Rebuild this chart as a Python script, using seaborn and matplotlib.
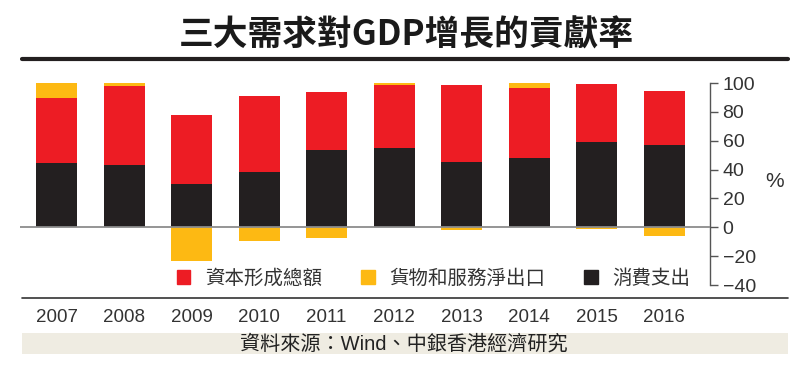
import numpy as np
import pandas as pd
import matplotlib
matplotlib.use('Agg')
import matplotlib.pyplot as plt
import seaborn as sns
from matplotlib.patches import Patch, Rectangle
from matplotlib.lines import Line2D

# values (%)
years = ['2007', '2008', '2009', '2010', '2011', '2012', '2013', '2014', '2015', '2016']
consumption = [44.6, 43.4, 30.3, 38.2, 53.6, 55.0, 45.3, 48.0, 58.9, 57.2]
capital = [44.8, 54.5, 47.6, 52.8, 40.4, 43.6, 53.1, 48.3, 40.2, 37.5]
net_exports = [10.9, 2.6, -23.7, -9.7, -7.4, 1.9, -2.1, 4.2, -1.4, -6.0]

series_names = ['資本形成總額', '貨物和服務淨出口', '消費支出']
title = '三大需求對GDP增長的貢獻率'
source = '資料來源：Wind、中銀香港經濟研究'

RED = '#ed1c24'
YELLOW = '#fdb913'
BLACK = '#231f20'
TEXT = '#333333'

sns.set_style('white')
plt.rcParams['font.family'] = ['Liberation Sans', 'Noto Sans CJK TC']

df = pd.DataFrame({'year': years, 'consumption': consumption,
                   'capital': capital, 'net': net_exports})
df['top'] = df['consumption'] + df['capital']
# net exports sit on top of the stack when positive, below zero when negative
df['yellow'] = np.where(df['net'] > 0, df['top'] + df['net'], df['net'])

fig = plt.figure(figsize=(8, 3.65), dpi=100)
W, H = 800, 365
ax = fig.add_axes([20 / W, (H - 285) / H, (710 - 20) / W, (285 - 83) / H])

bw = 0.61
sns.barplot(data=df, x='year', y='yellow', color=YELLOW, width=bw,
            saturation=1, linewidth=0, ax=ax)
sns.barplot(data=df, x='year', y='top', color=RED, width=bw,
            saturation=1, linewidth=0, ax=ax)
sns.barplot(data=df, x='year', y='consumption', color=BLACK, width=bw,
            saturation=1, linewidth=0, ax=ax)

ax.set_xlim(-0.544, 9.68)
ax.set_ylim(-40, 100)
ax.axhline(0, color='#8c8c8c', lw=1.3, zorder=5)

for s in ['top', 'left', 'bottom']:
    ax.spines[s].set_visible(False)
ax.spines['right'].set_color('#555555')
ax.spines['right'].set_linewidth(1)

ax.yaxis.tick_right()
yt = list(range(-40, 101, 20))
ax.set_yticks(yt)
ax.set_yticklabels([str(v).replace('-', '\u2212') for v in yt])
ax.tick_params(axis='y', direction='out', length=6, width=1, color='#555555',
               labelsize=14, labelcolor=TEXT, pad=3)
ax.tick_params(axis='x', length=0, labelsize=13.5, labelcolor=TEXT, pad=17)
ax.set_xlabel('')
ax.set_ylabel('')

fig.text(775 / W, 1 - 182 / H, '%', fontsize=15, color=TEXT,
         ha='center', va='center')

# title and rules
fig.text(406 / W, 1 - 35 / H, title, fontsize=25, fontweight='bold',
         family=['Noto Sans CJK TC'], ha='center', va='center', color='#1a1a1a')
fig.add_artist(Line2D([22 / W, 788 / W], [1 - 58.7 / H] * 2, color=BLACK, lw=3))
fig.add_artist(Line2D([22 / W, 788 / W], [1 - 298 / H] * 2, color=TEXT, lw=1.2))

# legend
handles = [Patch(color=RED), Patch(color=YELLOW), Patch(color=BLACK)]
fig.legend(handles, series_names, loc='center',
           bbox_to_anchor=(433.5 / W, 1 - 278 / H), ncol=3, frameon=False,
           prop={'family': ['Noto Sans CJK TC'], 'size': 14},
           labelcolor=TEXT, handlelength=0.7, handleheight=0.7,
           handletextpad=0.75, columnspacing=2.0)

# source band
fig.add_artist(Rectangle((22 / W, 1 - 354 / H), 766 / W, 21 / H,
                         transform=fig.transFigure, facecolor='#efece2',
                         edgecolor='none', zorder=0))
fig.text(404 / W, 1 - 343.5 / H, source, fontsize=14.5, color='#222222',
         ha='center', va='center')

fig.savefig('out.png', dpi=100)
